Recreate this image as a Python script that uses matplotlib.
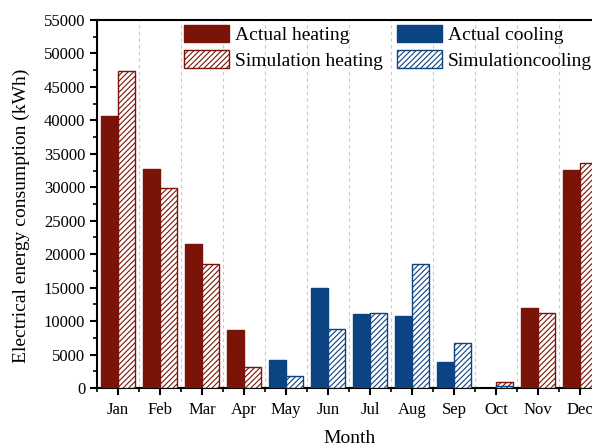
import numpy as np
import matplotlib
matplotlib.use("Agg")
import matplotlib.pyplot as plt
from matplotlib.ticker import MultipleLocator

months = ["Jan", "Feb", "Mar", "Apr", "May", "Jun",
          "Jul", "Aug", "Sep", "Oct", "Nov", "Dec"]

# heating / cooling series (kWh), zero where the season does not apply
actual_heating = [40700, 32700, 21500, 8600, 0, 0, 0, 0, 0, 0, 12000, 32600]
sim_heating = [47400, 29900, 18500, 3200, 0, 0, 0, 0, 0, 850, 11200, 33700]
actual_cooling = [0, 0, 0, 0, 4200, 15000, 11000, 10800, 3900, 0, 0, 0]
sim_cooling = [0, 0, 0, 0, 1800, 8800, 11200, 18600, 6700, 350, 0, 0]

heat_col = "#7a1406"
cool_col = "#0b4383"

plt.rcParams["font.family"] = ["Liberation Serif", "DejaVu Serif"]
plt.rcParams["hatch.linewidth"] = 0.8

fig = plt.figure(figsize=(5.92, 4.48), dpi=100)
ax = fig.add_axes([0.1639, 0.1339, 0.8514, 0.8214])

x = np.arange(1, 13)
w = 0.4

def keep(vals):
    return [v if v > 0 else np.nan for v in vals]

ax.bar(x - w / 2, keep(actual_heating), w, color=heat_col, edgecolor=heat_col,
       linewidth=1, label="Actual heating", zorder=3)
ax.bar(x + w / 2, keep(sim_heating), w, color="white", edgecolor=heat_col,
       hatch="//////", linewidth=1, label="Simulation heating", zorder=3)
ax.bar(x - w / 2, keep(actual_cooling), w, color=cool_col, edgecolor=cool_col,
       linewidth=1, label="Actual cooling", zorder=3)
ax.bar(x + w / 2, keep(sim_cooling), w, color="white", edgecolor=cool_col,
       hatch="//////", linewidth=1, label="Simulationcooling", zorder=4)

ax.set_xlim(0.5, 12.5)
ax.set_ylim(0, 55000)
ax.set_xticks(x)
ax.set_xticklabels(months)
ax.xaxis.set_minor_locator(MultipleLocator(1, offset=0.5))
ax.yaxis.set_major_locator(MultipleLocator(5000))
ax.yaxis.set_minor_locator(MultipleLocator(2500))

ax.tick_params(axis="both", which="major", direction="out", length=5, width=1.5,
               labelsize=12, colors="black")
ax.tick_params(axis="both", which="minor", direction="out", length=3, width=1.2)
ax.tick_params(axis="x", pad=5)

ax.grid(axis="x", which="minor", color="#c8c8c8", linestyle=(0, (3, 3)),
        linewidth=0.8, zorder=0)
ax.grid(axis="x", which="major", visible=False)

for s in ax.spines.values():
    s.set_linewidth(1.5)

ax.set_xlabel("Month", fontsize=14, labelpad=9)
ax.set_ylabel("Electrical energy consumption (kWh)", fontsize=14)
ax.yaxis.set_label_coords(-0.133, 0.467)

leg = fig.legend(ncol=2, loc="upper left", bbox_to_anchor=(184 / 592, 1 - 25 / 448),
                 frameon=False, fontsize=14, handlelength=2.3, handleheight=1.0,
                 handletextpad=0.3, columnspacing=0.75, labelspacing=0.3,
                 borderpad=0, borderaxespad=0)

plt.savefig("out.png", dpi=100)
plt.close()
